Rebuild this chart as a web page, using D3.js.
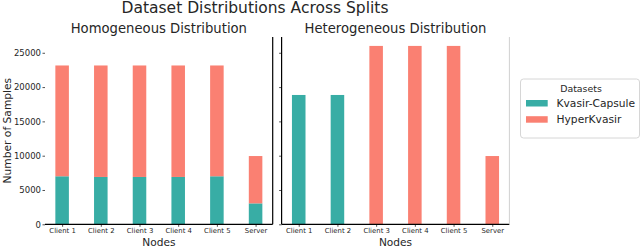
<!DOCTYPE html>
<html><head><meta charset="utf-8">
<script src="https://cdn.jsdelivr.net/npm/d3@7"></script>
<style>
html,body{margin:0;padding:0;background:#fff;}
svg{display:block;font-family:"DejaVu Sans",sans-serif;}
</style></head>
<body><svg id="c" width="640" height="246"></svg>
<script>
const nodes = ["Client 1","Client 2","Client 3","Client 4","Client 5","Server"];
const seriesNames = ["Kvasir-Capsule","HyperKvasir"];
const homoCapsule = [7000, 6900, 6900, 6900, 7000, 3050];
const homoHyper   = [16150, 16250, 16250, 16250, 16150, 6900];
const heteroCapsule = [18850, 18850, 0, 0, 0, 0];
const heteroHyper   = [0, 0, 26000, 26000, 26000, 9950];
const yTicks = [0, 5000, 10000, 15000, 20000, 25000];
const colors = ["#38ada5", "#fa8072"];
const txt = "#262626";

const svg = d3.select("#c");
const plotTop = 37, plotBottom = 224.3;
const y = d3.scaleLinear().domain([0, 27300]).range([plotBottom, plotTop]);
const barW = 0.35;

svg.append("text").attr("x", 255).attr("y", 12.8).attr("text-anchor","middle")
  .attr("font-size", 15.5).attr("fill", txt).text("Dataset Distributions Across Splits");

function panel(x0, x1, title, capsule, hyper, showYLabels, spines) {
  const x = d3.scaleLinear().domain([-0.4425, 5.4425]).range([x0, x1]);
  const g = svg.append("g");
  const stack = d3.stack().keys([0,1])(nodes.map((n,i)=>({0:capsule[i],1:hyper[i]})));
  stack.forEach((layer, k) => {
    g.selectAll(null).data(layer).enter().append("rect")
      .attr("x", (d,i) => x(i - barW/2))
      .attr("width", x(barW) - x(0))
      .attr("y", d => y(d[1]))
      .attr("height", d => y(d[0]) - y(d[1]))
      .attr("fill", colors[k]);
  });
  const xa = d3.axisBottom(x).tickValues(d3.range(nodes.length)).tickFormat(i => nodes[i])
    .tickSizeInner(2.5).tickSizeOuter(0).tickPadding(1.5);
  const gx = g.append("g").attr("transform", `translate(0,${plotBottom})`).call(xa);
  gx.select(".domain").remove();
  gx.selectAll(".tick line").attr("stroke", txt).attr("stroke-width", 0.8);
  gx.selectAll(".tick text").attr("font-size", 6.9).attr("fill", txt).attr("font-family","DejaVu Sans");
  const ya = d3.axisLeft(y).tickValues(yTicks).tickSizeInner(2.5).tickSizeOuter(0).tickPadding(1.5)
    .tickFormat(d => showYLabels ? String(d) : "");
  const gy = g.append("g").attr("transform", `translate(${x0},0)`).call(ya);
  gy.select(".domain").remove();
  gy.selectAll(".tick line").attr("stroke", txt).attr("stroke-width", 0.8);
  gy.selectAll(".tick text").attr("font-size", 8.5).attr("fill", txt).attr("font-family","DejaVu Sans");
  g.append("line").attr("x1", x0).attr("x2", x1).attr("y1", plotBottom).attr("y2", plotBottom)
    .attr("stroke", "#000").attr("stroke-width", 1.2);
  if (spines.left) g.append("line").attr("x1", x0).attr("x2", x0).attr("y1", plotTop).attr("y2", plotBottom)
    .attr("stroke", spines.left).attr("stroke-width", 1.2);
  if (spines.right) g.append("line").attr("x1", x1).attr("x2", x1).attr("y1", plotTop).attr("y2", plotBottom)
    .attr("stroke", spines.right).attr("stroke-width", spines.right === "#000" ? 1.2 : 1);
  g.append("text").attr("x", (x0+x1)/2).attr("y", 33.3).attr("text-anchor","middle")
    .attr("font-size", 13.2).attr("fill", txt).text(title);
  g.append("text").attr("x", (x0+x1)/2).attr("y", 245.5).attr("text-anchor","middle")
    .attr("font-size", 10.6).attr("fill", txt).text("Nodes");
}

panel(45, 272.7, "Homogeneous Distribution", homoCapsule, homoHyper, true, {left: null, right: "#000"});
panel(281.6, 509.4, "Heterogeneous Distribution", heteroCapsule, heteroHyper, false, {left: "#000", right: "#d0d0d0"});

svg.append("text").attr("transform", `translate(10.5,${(plotTop+plotBottom)/2}) rotate(-90)`)
  .attr("text-anchor","middle").attr("font-size", 10.7).attr("fill", txt).text("Number of Samples");

const lg = svg.append("g");
lg.append("rect").attr("x", 520.5).attr("y", 79).attr("width", 119).attr("height", 59)
  .attr("rx", 3).attr("fill", "#fff").attr("stroke", "#d6d6d6").attr("stroke-width", 1);
lg.append("text").attr("x", 581).attr("y", 91.7).attr("text-anchor","middle")
  .attr("font-size", 9.4).attr("fill", txt).text("Datasets");
seriesNames.forEach((s, i) => {
  lg.append("rect").attr("x", 526).attr("y", 100 + i*16.2).attr("width", 21.7).attr("height", 6.5)
    .attr("fill", colors[i]);
  lg.append("text").attr("x", 556.5).attr("y", 107 + i*16.2).attr("font-size", 10.7)
    .attr("fill", txt).text(s);
});
</script></body></html>
